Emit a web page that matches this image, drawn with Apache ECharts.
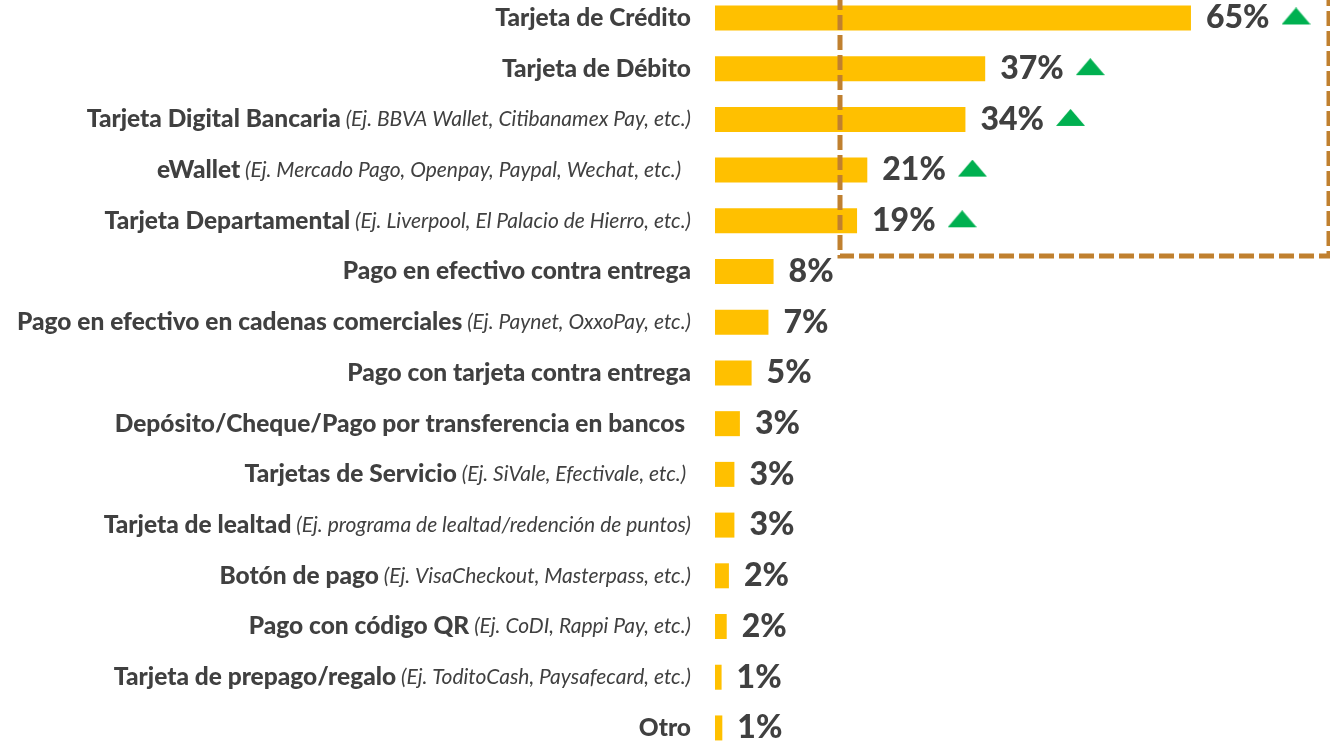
<!DOCTYPE html>
<html>
<head>
<meta charset="utf-8">
<script src="https://cdn.jsdelivr.net/npm/echarts@6/dist/echarts.min.js"></script>
<style>
  html, body { margin: 0; padding: 0; background: #fff; }
  #chart { width: 1330px; height: 741px; }
</style>
</head>
<body>
<div id="chart"></div>
<script>
// medios de pago - barras horizontales
var categories = [
  'Tarjeta de Crédito',
  'Tarjeta de Débito',
  'Tarjeta Digital Bancaria',
  'eWallet',
  'Tarjeta Departamental',
  'Pago en efectivo contra entrega',
  'Pago en efectivo en cadenas comerciales',
  'Pago con tarjeta contra entrega',
  'Depósito/Cheque/Pago por transferencia en bancos ',
  'Tarjetas de Servicio',
  'Tarjeta de lealtad',
  'Botón de pago',
  'Pago con código QR',
  'Tarjeta de prepago/regalo',
  'Otro'
];
var examples = [
  '',
  '',
  '(Ej. BBVA Wallet, Citibanamex Pay, etc.)',
  '(Ej. Mercado Pago, Openpay, Paypal, Wechat, etc.)  ',
  '(Ej. Liverpool, El Palacio de Hierro, etc.)',
  '',
  '(Ej. Paynet, OxxoPay, etc.)',
  '',
  '',
  '(Ej. SiVale, Efectivale, etc.) ',
  '(Ej. programa de lealtad/redención de puntos)',
  '(Ej. VisaCheckout, Masterpass, etc.)',
  '(Ej. CoDI, Rappi Pay, etc.)',
  '(Ej. ToditoCash, Paysafecard, etc.)',
  ''
];
// largo de barra (%)
var values = [65, 36.9, 34.2, 20.8, 19.4, 8.0, 7.3, 5.0, 3.4, 2.65, 2.65, 1.9, 1.6, 0.9, 1.0];
// flecha verde de crecimiento
var trendUp = [true, true, true, true, true, false, false, false, false, false, false, false, false, false, false];

// triangulo verde
var tri = document.createElement('canvas');
tri.width = 29;
tri.height = 21;
var ctx = tri.getContext('2d');
ctx.fillStyle = '#00B050';
ctx.beginPath();
ctx.moveTo(0, 17);
ctx.lineTo(14.5, 0);
ctx.lineTo(29, 17);
ctx.closePath();
ctx.fill();

var myChart = echarts.init(document.getElementById('chart'));

var option = {
  animation: false,
  grid: {
    left: 715,
    top: -7.4,
    width: 585.8,
    height: 760.7,
    outerBoundsMode: 'none'
  },
  xAxis: {
    type: 'value',
    min: 0,
    max: 80,
    show: false
  },
  yAxis: {
    type: 'category',
    inverse: true,
    data: categories,
    axisLine: { show: false },
    axisTick: { show: false },
    axisLabel: {
      margin: 24,
      formatter: function (value, index) {
        var ex = examples[index];
        return ex ? '{b|' + value + '}{i| ' + ex + '}' : '{b|' + value + '}';
      },
      rich: {
        b: {
          fontFamily: 'Lato',
          fontWeight: 900,
          fontSize: 24.5,
          color: '#404040'
        },
        i: {
          fontFamily: 'Lato',
          fontStyle: 'italic',
          fontWeight: 'normal',
          fontSize: 21,
          color: '#404040'
        }
      }
    }
  },
  series: [{
    type: 'bar',
    data: values,
    barWidth: 25,
    itemStyle: { color: '#FFC000' },
    label: {
      show: true,
      position: 'right',
      distance: 15,
      formatter: function (p) {
        var s = '{v|' + Math.round(p.value) + '%}';
        if (trendUp[p.dataIndex]) s += '{s|}{t|}';
        return s;
      },
      rich: {
        v: {
          fontFamily: 'Lato',
          fontWeight: 900,
          fontSize: 32,
          color: '#404040'
        },
        s: { width: 12, height: 10 },
        t: {
          width: 29,
          height: 21,
          backgroundColor: { image: tri }
        }
      }
    }
  }],
  graphic: [{
    type: 'rect',
    z: 100,
    shape: { x: 840, y: -20, width: 489, height: 276 },
    style: {
      fill: null,
      stroke: '#C0802F',
      lineWidth: 5,
      lineDash: [15, 5]
    }
  }]
};

myChart.setOption(option, true);
window.addEventListener('resize', function () {
  myChart.resize();
});
</script>
</body>
</html>
